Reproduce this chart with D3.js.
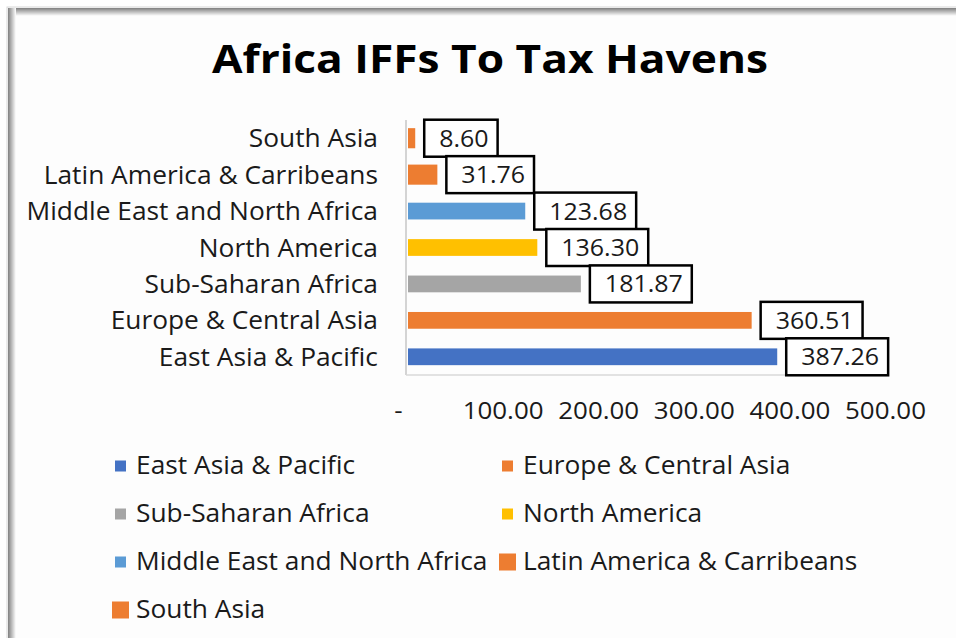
<!DOCTYPE html>
<html>
<head>
<meta charset="utf-8">
<script src="https://cdn.jsdelivr.net/npm/d3@7"></script>
<style>
  html, body { margin: 0; padding: 0; background: #ffffff; }
  svg { display: block; }
</style>
</head>
<body>
<svg id="chart" width="956" height="638"></svg>
<script>
// ---- data ----
const categories = [
  "South Asia",
  "Latin America & Carribeans",
  "Middle East and North Africa",
  "North America",
  "Sub-Saharan Africa",
  "Europe & Central Asia",
  "East Asia & Pacific"
];
const values = [8.60, 31.76, 123.68, 136.30, 181.87, 360.51, 387.26];
const tickValues = [0, 100, 200, 300, 400, 500];
const tickLabels = ["-", "100.00", "200.00", "300.00", "400.00", "500.00"];
const legendOrder = [
  "East Asia & Pacific",
  "Europe & Central Asia",
  "Sub-Saharan Africa",
  "North America",
  "Middle East and North Africa",
  "Latin America & Carribeans",
  "South Asia"
];
const titleText = "Africa IFFs To Tax Havens";

// ---- styles ----
const colors = {
  "East Asia & Pacific": "#4472C4",
  "Europe & Central Asia": "#ED7D31",
  "Sub-Saharan Africa": "#A5A5A5",
  "North America": "#FFC000",
  "Middle East and North Africa": "#5B9BD5",
  "Latin America & Carribeans": "#ED7D31",
  "South Asia": "#ED7D31"
};
const thick = new Set(["South Asia", "Latin America & Carribeans"]);
const FONT = "'Open Sans', 'Noto Sans', sans-serif";
const data = categories.map((c, i) => ({ cat: c, value: values[i] }));

// stretch text horizontally by a factor (font is slightly wider in the reference)
function stretch(sel, f) {
  sel.each(function() {
    const w = this.getComputedTextLength();
    d3.select(this).attr("textLength", w * f).attr("lengthAdjust", "spacingAndGlyphs");
  });
}

const svg = d3.select("#chart");

// ---- frame with shadow ----
const defs = svg.append("defs");
const gl = defs.append("linearGradient").attr("id", "shL").attr("x1", 0).attr("x2", 1).attr("y1", 0).attr("y2", 0);
gl.append("stop").attr("offset", "0%").attr("stop-color", "#7f7f7f");
gl.append("stop").attr("offset", "100%").attr("stop-color", "#ffffff");
const gt = defs.append("linearGradient").attr("id", "shT").attr("x1", 0).attr("x2", 0).attr("y1", 0).attr("y2", 1);
gt.append("stop").attr("offset", "0%").attr("stop-color", "#7f7f7f");
gt.append("stop").attr("offset", "100%").attr("stop-color", "#ffffff");

svg.append("rect").attr("x", 7).attr("y", 7).attr("width", 980).attr("height", 660)
  .attr("fill", "#fdfdfd").attr("stroke", "#d8d8d8").attr("stroke-width", 1);
svg.append("rect").attr("x", 8).attr("y", 8).attr("width", 980).attr("height", 8).attr("fill", "url(#shT)");
svg.append("rect").attr("x", 8).attr("y", 8).attr("width", 8).attr("height", 660).attr("fill", "url(#shL)");

// ---- title ----
svg.append("text")
  .attr("x", 490).attr("y", 73)
  .attr("text-anchor", "middle")
  .attr("font-family", FONT).attr("font-weight", 700).attr("font-size", 40)
  .attr("fill", "#000")
  .attr("textLength", 556).attr("lengthAdjust", "spacingAndGlyphs")
  .text(titleText);

// ---- scales ----
const x = d3.scaleLinear().domain([0, 500]).range([407, 885]);
const y = d3.scaleBand().domain(categories).range([120, 375]).paddingInner(0.54).paddingOuter(0.27);

// ---- axis lines ----
svg.append("line").attr("x1", 406).attr("x2", 406).attr("y1", 120).attr("y2", 375)
  .attr("stroke", "#c6c6c6").attr("stroke-width", 1.5);
svg.append("line").attr("x1", 406).attr("x2", x(500)).attr("y1", 375).attr("y2", 375)
  .attr("stroke", "#d9d9d9").attr("stroke-width", 1.5);

// ---- category labels ----
svg.append("g").selectAll("text").data(data).join("text")
  .attr("x", 378)
  .attr("y", d => y(d.cat) + y.bandwidth() / 2 + 9)
  .attr("text-anchor", "end")
  .attr("font-family", FONT).attr("font-size", 25).attr("fill", "#1a1a1a")
  .text(d => d.cat)
  .call(stretch, 1.053);

// ---- bars ----
svg.append("g").selectAll("rect").data(data).join("rect")
  .attr("x", x(0) + 1)
  .attr("y", d => {
    const h = thick.has(d.cat) ? y.bandwidth() * 1.2 : y.bandwidth();
    return y(d.cat) + y.bandwidth() / 2 - h / 2;
  })
  .attr("width", d => x(d.value) - x(0) - 1)
  .attr("height", d => thick.has(d.cat) ? y.bandwidth() * 1.2 : y.bandwidth())
  .attr("fill", d => colors[d.cat]);

// ---- data labels with boxes ----
const lab = svg.append("g").selectAll("g").data(data).join("g");
lab.each(function(d) {
  const g = d3.select(this);
  const cy = y(d.cat) + y.bandwidth() / 2;
  const t = g.append("text")
    .attr("font-family", FONT).attr("font-size", 24).attr("fill", "#1a1a1a")
    .attr("text-anchor", "end")
    .text(d.value.toFixed(2));
  const w = t.node().getComputedTextLength() * 1.04;
  t.attr("textLength", w).attr("lengthAdjust", "spacingAndGlyphs");
  const bx = x(d.value) + 9;
  const bw = w + 24;
  g.insert("rect", "text")
    .attr("x", bx).attr("y", cy - 18.5)
    .attr("width", bw).attr("height", 37)
    .attr("fill", "#fff").attr("stroke", "#000").attr("stroke-width", 2.5);
  t.attr("x", bx + bw - 9).attr("y", cy + 8.5);
});

// ---- x axis ----
const axis = d3.axisBottom(x).tickValues(tickValues).tickSize(0)
  .tickFormat((d, i) => tickLabels[i]);
const ag = svg.append("g").attr("transform", "translate(0,375)").call(axis);
ag.select(".domain").remove();
ag.selectAll("text")
  .attr("font-family", FONT).attr("font-size", 24).attr("fill", "#1a1a1a")
  .attr("dy", 0).attr("y", 44)
  .attr("dx", (d) => d === 0 ? -9 : 0)
  .call(stretch, 1.08);

// ---- legend ----
const legend = svg.append("g");
const lg = legend.selectAll("g").data(legendOrder).join("g")
  .attr("transform", (d, i) => {
    const col = i % 2, row = Math.floor(i / 2);
    return `translate(${col === 0 ? 136 : 523},${474 + row * 48})`;
  });
lg.append("rect")
  .attr("x", d => thick.has(d) ? -24 : -21)
  .attr("y", d => thick.has(d) ? -16.5 : -13.5)
  .attr("width", d => thick.has(d) ? 17 : 11)
  .attr("height", d => thick.has(d) ? 17 : 11)
  .attr("fill", d => colors[d]);
lg.append("text")
  .attr("x", 0).attr("y", 0)
  .attr("font-family", FONT).attr("font-size", 25).attr("fill", "#1a1a1a")
  .text(d => d)
  .call(stretch, 1.053);
</script>
</body>
</html>
